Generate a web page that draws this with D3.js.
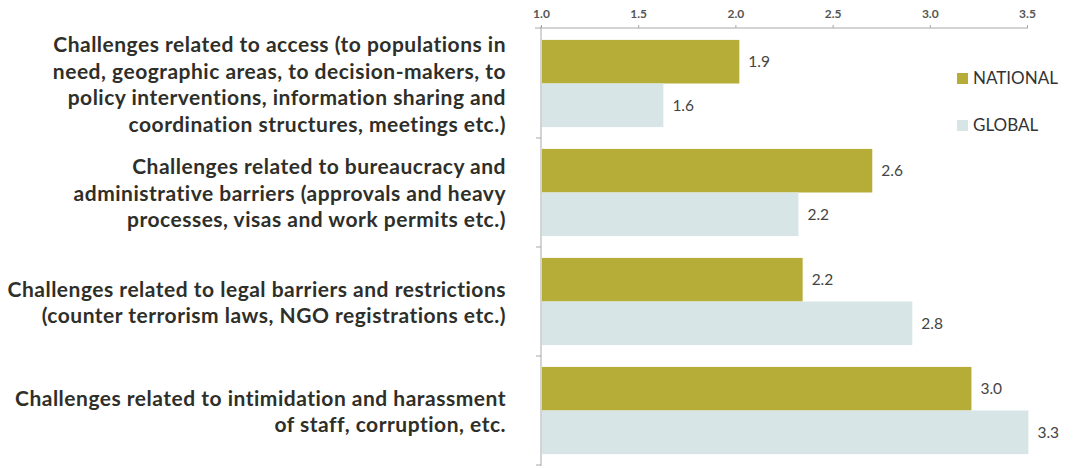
<!DOCTYPE html>
<html>
<head>
<meta charset="utf-8">
<script src="https://cdn.jsdelivr.net/npm/d3@7"></script>
<style>
  body { margin: 0; background: #fff; }
  svg { display: block; font-family: Lato, "Open Sans", sans-serif; }
</style>
</head>
<body>
<svg id="chart" width="1086" height="468"></svg>
<script>
// category labels, one entry per line of text
const categories = ["access", "bureaucracy", "legal", "intimidation"];
const categoryLines = [
  ["Challenges related to access (to populations in",
   "need, geographic areas, to decision-makers, to",
   "policy interventions, information sharing and",
   "coordination structures, meetings etc.)"],
  ["Challenges related to bureaucracy and",
   "administrative barriers (approvals and heavy",
   "processes, visas and work permits etc.)"],
  ["Challenges related to legal barriers and restrictions",
   "(counter terrorism laws, NGO registrations etc.)"],
  ["Challenges related to intimidation and harassment",
   "of staff, corruption, etc."]
];
const series = ["NATIONAL", "GLOBAL"];
const national = [1.94, 2.57, 2.24, 3.04];
const global = [1.58, 2.22, 2.76, 3.31];
const tickValues = [1.0, 1.5, 2.0, 2.5, 3.0, 3.5];

const colors = { NATIONAL: "#b6ad39", GLOBAL: "#d7e5e6" };

const width = 1086;
const height = 468;
const margin = { top: 29, right: 58, bottom: 3, left: 541 };

const svg = d3.select("#chart");

// the printed axis is drawn at a tighter scale than the bars in the source graphic
const xAxis = d3.scaleLinear()
  .domain([1, 3.5])
  .range([margin.left, 1027]);

const x = d3.scaleLinear()
  .domain([1, 3.5])
  .range([margin.left, margin.left + 2.5 * 211]);

const y = d3.scaleBand()
  .domain(categories)
  .range([margin.top, height - margin.bottom])
  .padding(0);

const ySeries = d3.scaleBand()
  .domain(series)
  .range([0, y.bandwidth()])
  .paddingInner(0)
  .paddingOuter(0.25);

const rows = categories.map((c, i) => ({
  cat: c,
  lines: categoryLines[i],
  values: [{ s: "NATIONAL", v: national[i] }, { s: "GLOBAL", v: global[i] }]
}));

// top axis
const axisG = svg.append("g")
  .attr("transform", `translate(0,${margin.top - 1})`)
  .call(d3.axisTop(xAxis).tickValues(tickValues).tickFormat(d3.format(".1f")).tickSize(3).tickPadding(7));

axisG.select(".domain").remove();
axisG.append("line")
  .attr("x1", xAxis(1) - 6)
  .attr("x2", xAxis(3.5) + 1)
  .attr("stroke", "#a8a8a8");
axisG.selectAll(".tick line").attr("stroke", "#a8a8a8");
axisG.selectAll(".tick text")
  .attr("fill", "#555")
  .style("font-family", "Lato, sans-serif")
  .style("font-weight", "700")
  .style("font-size", "12px");

// left axis line with ticks between categories
const yAxisG = svg.append("g");
yAxisG.append("line")
  .attr("x1", margin.left).attr("x2", margin.left)
  .attr("y1", margin.top - 3).attr("y2", y.range()[1] + 1)
  .attr("stroke", "#a8a8a8");
yAxisG.selectAll(".ytick")
  .data(categories.slice(1).map(c => y(c)).concat([y.range()[1]]))
  .enter().append("line")
  .attr("class", "ytick")
  .attr("x1", margin.left - 5).attr("x2", margin.left)
  .attr("y1", d => d).attr("y2", d => d)
  .attr("stroke", "#a8a8a8");

// bars
const groups = svg.selectAll(".row")
  .data(rows)
  .enter().append("g")
  .attr("class", "row")
  .attr("transform", d => `translate(0,${y(d.cat)})`);

groups.selectAll("rect")
  .data(d => d.values)
  .enter().append("rect")
  .attr("x", x(1) + 1)
  .attr("y", d => ySeries(d.s))
  .attr("width", d => x(d.v) - x(1) - 1)
  .attr("height", ySeries.bandwidth())
  .attr("fill", d => colors[d.s]);

groups.selectAll(".value")
  .data(d => d.values)
  .enter().append("text")
  .attr("class", "value")
  .attr("x", d => x(d.v) + 9)
  .attr("y", d => ySeries(d.s) + ySeries.bandwidth() / 2)
  .attr("dy", "0.35em")
  .attr("fill", "#444")
  .style("font-size", "15.5px")
  .text(d => d3.format(".1f")(d.v));

// category labels
const lineH = 26.6;
groups.append("text")
  .attr("class", "cat")
  .attr("text-anchor", "end")
  .attr("fill", "#2f2f2a")
  .style("font-size", "21px")
  .style("font-weight", "700")
  .style("letter-spacing", "0.5px")
  .selectAll("tspan")
  .data(d => d.lines.map((t, i) => ({ t, i, n: d.lines.length })))
  .enter().append("tspan")
  .attr("x", 506)
  .attr("y", d => y.bandwidth() / 2 + 1 + (d.i - (d.n - 1) / 2) * lineH)
  .attr("dy", "0.35em")
  .text(d => d.t);

// legend
const legend = svg.selectAll(".legend")
  .data(series)
  .enter().append("g")
  .attr("class", "legend")
  .attr("transform", (d, i) => `translate(957,${73 + i * 47})`);

legend.append("rect")
  .attr("width", 11).attr("height", 11)
  .attr("fill", d => colors[d]);

legend.append("text")
  .attr("x", 16)
  .attr("y", 5.5)
  .attr("dy", "0.35em")
  .attr("fill", "#333")
  .style("font-size", "17px")
  .text(d => d);
</script>
</body>
</html>
